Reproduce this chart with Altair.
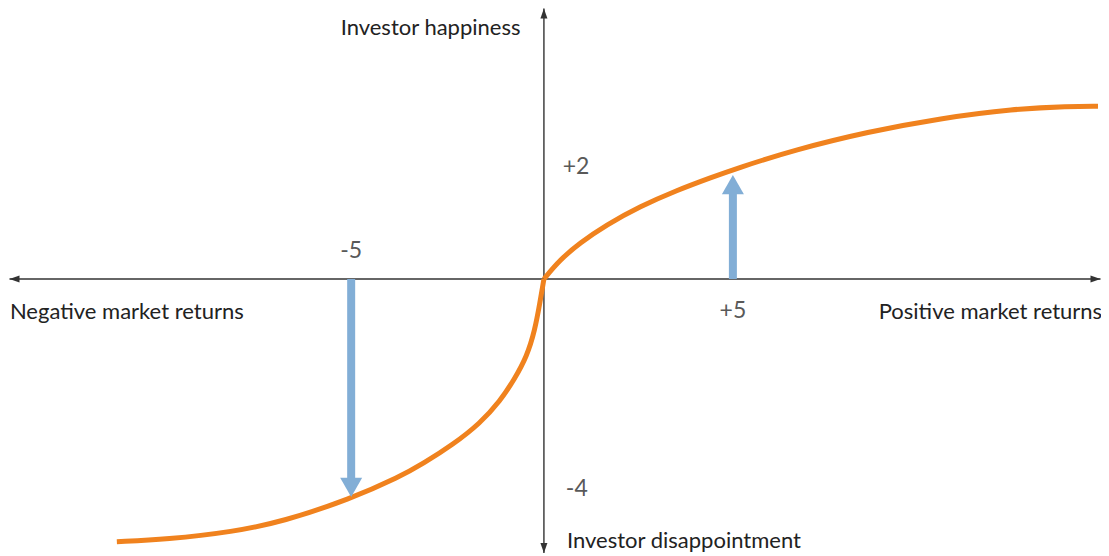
import altair as alt
import pandas as pd

# ---- data ----
loss_x = [-11.3, -9.98, -8.22, -6.9, -5.13, -3.81, -3.2, -2.41, -1.69, -1.16, -0.79, -0.45, -0.24, -0.11, 0.0]
loss_y = [-4.82, -4.78, -4.64, -4.45, -4.04, -3.63, -3.39, -3.04, -2.65, -2.24, -1.85, -1.42, -0.94, -0.45, 0.0]
gain_x = [0.0, 0.42, 0.95, 1.65, 2.54, 3.53, 4.42, 5.1, 6.64, 8.57, 10.5, 12.43, 13.9, 14.66]
gain_y = [0.0, 0.35, 0.66, 0.99, 1.33, 1.63, 1.86, 2.03, 2.37, 2.70, 2.95, 3.12, 3.17, 3.17]

arrow_x = [-5.1, 5.0]        # market return
arrow_tip = [-4.0, 1.91]     # happiness reached

value_labels = ["-5", "+5", "+2", "-4"]
value_lx = [-5.1, 5.0, 0.85, 0.87]
value_ly = [0.52, -0.59, 2.05, -3.86]

axis_labels = ["Investor happiness", "Negative market returns",
               "Positive market returns", "Investor disappointment"]
axis_lx = [-0.62, -14.13, 14.77, 0.61]
axis_ly = [4.61, -0.6, -0.6, -4.81]
axis_align = ["right", "left", "right", "left"]

# ---- scales ----
W, H = 1093, 548
XD = [-14.18, 14.74]
YD = [-5.083, 4.972]
px_x = (XD[1] - XD[0]) / W
px_y = (YD[1] - YD[0]) / H

xs = alt.Scale(domain=XD, nice=False, zero=False)
ys = alt.Scale(domain=YD, nice=False, zero=False)
X = lambda f: alt.X(f, type="quantitative", scale=xs, axis=None)
Y = lambda f: alt.Y(f, type="quantitative", scale=ys, axis=None)

AX_COL = "#333333"
ORANGE = "#F0821E"
BLUE = "#82AED6"
FONT = "Lato"

# axes lines
xl, xr = XD[0] + 1.5 * px_x, XD[1] - 0.5 * px_x
yt, yb = YD[1] - 0.5 * px_y, -5.03
axes_df = pd.DataFrame({"x": [xl, 0.0], "x2": [xr, 0.0], "y": [0.0, yt], "y2": [0.0, yb]})
axes = alt.Chart(axes_df).mark_rule(color=AX_COL, strokeWidth=1.4).encode(
    x=X("x"), x2="x2", y=Y("y"), y2="y2")

heads_df = pd.DataFrame({
    "x": [xl, xr, 0.0, 0.0],
    "y": [0.0, 0.0, yt, yb],
    "shape": ["M 0 0 L 2 -0.7 L 2 0.7 Z", "M 0 0 L -2 -0.7 L -2 0.7 Z",
              "M 0 0 L -0.7 2 L 0.7 2 Z", "M 0 0 L -0.7 -2 L 0.7 -2 Z"],
})
heads = alt.Chart(heads_df).mark_point(filled=True, opacity=1, color=AX_COL, size=100, strokeWidth=0).encode(
    x=X("x"), y=Y("y"), shape=alt.Shape("shape:N", scale=None, legend=None))

# curve (two pieces meeting at the origin)
curve_df = pd.DataFrame({
    "x": loss_x + gain_x,
    "y": loss_y + gain_y,
    "piece": ["loss"] * len(loss_x) + ["gain"] * len(gain_x),
    "o": list(range(len(loss_x))) + list(range(len(gain_x))),
})
curve = alt.Chart(curve_df).mark_line(color=ORANGE, strokeWidth=5, interpolate="basis", strokeCap="butt").encode(
    x=X("x"), y=Y("y"), detail="piece:N", order="o:Q")

# blue arrows
head_len = 19.0
shaft_end = [t - head_len * px_y if t > 0 else t + head_len * px_y for t in arrow_tip]
shaft_df = pd.DataFrame({"x": arrow_x, "y": [0.0, 0.0], "y2": shaft_end})
shafts = alt.Chart(shaft_df).mark_rule(color=BLUE, strokeWidth=8).encode(x=X("x"), y=Y("y"), y2="y2")
ahead_df = pd.DataFrame({
    "x": arrow_x, "y": arrow_tip,
    "shape": ["M 0 0 L -1 -1.75 L 1 -1.75 Z" if t < 0 else "M 0 0 L -1 1.75 L 1 1.75 Z" for t in arrow_tip],
})
aheads = alt.Chart(ahead_df).mark_point(filled=True, opacity=1, color=BLUE, size=484, strokeWidth=0).encode(
    x=X("x"), y=Y("y"), shape=alt.Shape("shape:N", scale=None, legend=None))

# texts
vl_df = pd.DataFrame({"x": value_lx, "y": value_ly, "t": value_labels})
vtext = alt.Chart(vl_df).mark_text(font=FONT, fontSize=23, color="#595959", align="center", baseline="middle").encode(
    x=X("x"), y=Y("y"), text="t:N")

texts = []
for t, x, y, a in zip(axis_labels, axis_lx, axis_ly, axis_align):
    d = pd.DataFrame({"x": [x], "y": [y], "t": [t]})
    texts.append(alt.Chart(d).mark_text(font=FONT, fontSize=22, color="#222222", align=a, baseline="middle").encode(
        x=X("x"), y=Y("y"), text="t:N"))

chart = alt.layer(axes, heads, curve, shafts, aheads, vtext, *texts).properties(
    width=W, height=H, padding=0, autosize=alt.AutoSizeParams(type="none")
).configure_view(stroke=None)

chart.save("out.html", embed_options={"renderer": "svg", "actions": False})
